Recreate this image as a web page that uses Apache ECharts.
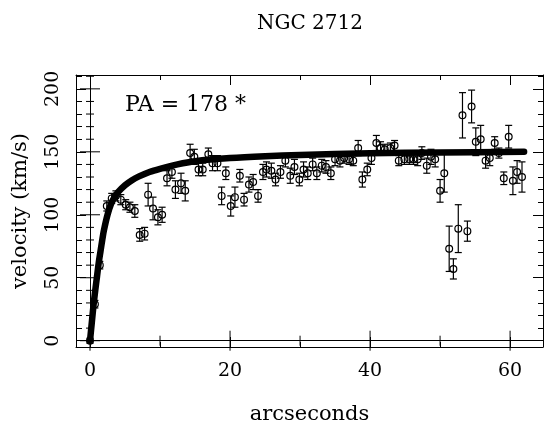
<!DOCTYPE html>
<html>
<head>
<meta charset="utf-8">
<script src="https://cdn.jsdelivr.net/npm/echarts@6/dist/echarts.min.js"></script>
<style>html,body{margin:0;padding:0;background:#fff}#c{width:544px;height:430px}</style>
</head>
<body>
<div id="c"></div>
<script>
// ---- data ----
const radius = [0.0,0.7,1.4,2.4,3.1,3.7,4.4,5.1,5.7,6.4,7.1,7.8,8.3,9.0,9.7,10.3,11.0,11.7,12.2,13.0,13.6,14.3,14.9,15.5,16.1,16.9,17.5,18.2,18.8,19.4,20.1,20.7,21.4,22.0,22.7,23.3,24.0,24.7,25.2,25.9,26.5,27.2,27.9,28.6,29.2,29.9,30.5,31.1,31.8,32.4,33.1,33.7,34.4,35.0,35.7,36.3,37.0,37.6,38.3,38.9,39.6,40.2,40.9,41.5,42.1,42.9,43.5,44.1,44.9,45.6,46.2,46.8,47.4,48.1,48.7,49.3,50.0,50.6,51.3,51.9,52.6,53.2,53.9,54.5,55.1,55.8,56.5,57.1,57.8,58.4,59.1,59.8,60.4,61.0,61.7];
const velocity = [0,29,60,107,113,115,112,108,106,103,84,85,116,105,98,100,129,134,120,125,119,149,146,136,136,148,141,141,115,133,107,114,131,112,124,126,115,134,136,135,128,134,143,131,138,128,136,133,140,133,139,138,133,144,143,145,144,143,153,128,136,145,157,153,152,153,155,143,144,144,144,144,149,139,146,144,119,133,73,57,89,179,87,186,158,160,143,145,157,149,129,162,127,134,130];
const velErr = [2,3,3,4,4,4,4,4,4,5,5,5,9,9,6,6,6,5,7,8,8,7,6,5,5,5,6,6,7,5,8,8,5,5,6,6,5,6,6,6,5,5,5,6,6,5,6,5,5,5,5,5,5,5,5,4,4,4,6,6,5,5,6,5,4,4,4,4,4,4,4,5,5,6,6,6,9,15,18,8,19,18,8,13,11,11,6,6,5,4,5,9,11,9,12];
const modelR = [0,0.25,0.5,0.75,1.0,1.25,1.5,1.75,2.0,2.5,3.0,3.5,4.0,5.0,6.0,7.0,8.5,10,12.5,15,20,25,30,40,50,62];
const modelV = [0,14,28,40,51,62,71,80,88,100,108.5,114,118,123.5,127.5,130.5,134,136.5,140,142.5,145,146.5,147.5,148.8,149.5,150];
const xMajorTicks = [0,20,40,60];
const xMinorTicks = [0,10,20,30,40,50,60];
const yMajorTicks = [0,50,100,150,200];
const yMinorTicks = [0,10,20,30,40,50,60,70,80,90,100,110,120,130,140,150,160,170,180,190,200,210];
const titleText = 'NGC 2712';
const noteText = 'PA = 178 *';
const xName = 'arcseconds';
const yName = 'velocity (km/s)';

// ---- chart ----
const FONT = 'DejaVu Serif';
const X_MIN = -2, X_MAX = 64.7, Y_MIN = -5, Y_MAX = 211;
const blk = {color:'#000', width:1};

function xAx(pos, ticks, len, withLine, labels) {
  return {
    type:'value', position:pos, min:X_MIN, max:X_MAX, gridIndex:0,
    axisLine:{show:withLine, onZero:false, lineStyle:blk},
    axisTick:{show:true, inside:true, length:len, customValues:ticks, lineStyle:blk},
    axisLabel: labels ? {show:true, customValues:labels, margin:15, color:'#000', fontFamily:FONT, fontSize:19} : {show:false},
    splitLine:{show:false}
  };
}
function yAx(pos, ticks, len, withLine, labels) {
  return {
    type:'value', position:pos, min:Y_MIN, max:Y_MAX, gridIndex:0,
    axisLine:{show:withLine, onZero:false, lineStyle:blk},
    axisTick:{show:true, inside:true, length:len, customValues:ticks, lineStyle:blk},
    axisLabel: labels ? {show:true, customValues:labels, rotate:90, margin:13, color:'#000', fontFamily:FONT, fontSize:19} : {show:false},
    splitLine:{show:false}
  };
}

const xAxes = [
  Object.assign(xAx('bottom', xMajorTicks, 10, true, xMajorTicks), {
    name:xName, nameLocation:'middle', nameGap:57,
    nameTextStyle:{color:'#000', fontFamily:FONT, fontSize:21}
  }),
  xAx('bottom', xMinorTicks, 5, false, null),
  xAx('top', xMajorTicks, 10, true, null),
  xAx('top', xMinorTicks, 5, false, null)
];
const yAxes = [
  Object.assign(yAx('left', yMajorTicks, 10, true, yMajorTicks), {
    name:yName, nameLocation:'middle', nameGap:45, nameRotate:90,
    nameTextStyle:{color:'#000', fontFamily:FONT, fontSize:21}
  }),
  yAx('left', yMinorTicks, 6, false, null),
  yAx('right', yMajorTicks, 10, true, null),
  yAx('right', yMinorTicks, 5, false, null)
];

const pointData = radius.map((r,i) => [r, velocity[i], velErr[i]]);
const zeroTickData = xMinorTicks.map(t => [t, 0, 0]).concat(yMinorTicks.map(t => [0, t, 1]));
const modelData = modelR.map((r,i) => [r, modelV[i]]);

const option = {
  animation:false,
  backgroundColor:'#fff',
  grid:{left:76, right:1, top:75, bottom:81, containLabel:false},
  xAxis:xAxes,
  yAxis:yAxes,
  graphic:[
    {type:'text', x:310, y:24, style:{text:titleText, fill:'#000', font:'20px "DejaVu Serif"', textAlign:'center', textVerticalAlign:'middle'}},
    {type:'text', x:125, y:105, style:{text:noteText, fill:'#000', font:'22px "DejaVu Serif"', textAlign:'left', textVerticalAlign:'middle'}}
  ],
  series:[
    { // zero axes with crossing ticks
      type:'custom', xAxisIndex:0, yAxisIndex:0, data:zeroTickData, silent:true, z:2,
      renderItem(params, api){
        const x = api.value(0), y = api.value(1), dir = api.value(2);
        const p = api.coord([x, y]);
        let shape;
        if (dir === 0) {
          const h = xMajorTicks.includes(x) ? 10 : 5;
          shape = {x1:p[0], y1:p[1]-h, x2:p[0], y2:p[1]+h};
        } else {
          const h = yMajorTicks.includes(y) ? 10 : 4;
          shape = {x1:p[0]-h, y1:p[1], x2:p[0]+h, y2:p[1]};
        }
        return {type:'line', shape, style:{stroke:'#000', lineWidth:1}};
      },
      markLine:{
        silent:true, symbol:'none', label:{show:false},
        lineStyle:{color:'#000', width:1, type:'solid'},
        data:[{xAxis:0}, {yAxis:0}]
      }
    },
    { // data points with error bars
      type:'custom', xAxisIndex:0, yAxisIndex:0, data:pointData, z:3,
      renderItem(params, api){
        const x = api.value(0), y = api.value(1), e = api.value(2);
        const c = api.coord([x, y]);
        const lo = api.coord([x, y - e]);
        const hi = api.coord([x, y + e]);
        const st = {stroke:'#000', lineWidth:1.2};
        return {type:'group', children:[
          {type:'line', shape:{x1:c[0], y1:lo[1], x2:c[0], y2:hi[1]}, style:st},
          {type:'line', shape:{x1:c[0]-3.5, y1:lo[1], x2:c[0]+3.5, y2:lo[1]}, style:st},
          {type:'line', shape:{x1:c[0]-3.5, y1:hi[1], x2:c[0]+3.5, y2:hi[1]}, style:st},
          {type:'circle', shape:{cx:c[0], cy:c[1], r:3.4}, style:{stroke:'#000', fill:'none', lineWidth:1.2}}
        ]};
      }
    },
    { // model rotation curve
      type:'line', xAxisIndex:0, yAxisIndex:0, data:modelData, z:4,
      showSymbol:false, smooth:0.3,
      lineStyle:{color:'#000', width:6.5, cap:'round', join:'round'}
    }
  ]
};
const chart = echarts.init(document.getElementById('c'), null, {renderer:'canvas'});
chart.setOption(option);
</script>
</body>
</html>
